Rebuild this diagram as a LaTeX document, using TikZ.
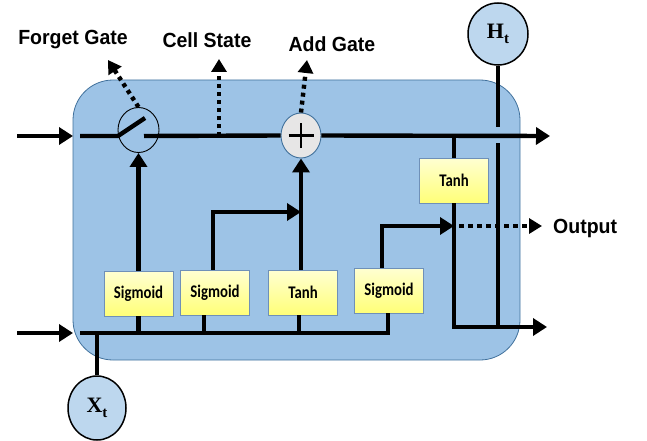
\documentclass[tikz,border=0pt]{standalone}
\usepackage{fontspec}
\setmainfont{Liberation Serif}
\newfontfamily\arialb{Liberation Sans}
\newfontfamily\calib{Carlito}
\usetikzlibrary{arrows.meta,shapes.geometric}
\definecolor{cellblue}{HTML}{9DC3E6}
\definecolor{cellborder}{HTML}{41719C}
\definecolor{circblue}{HTML}{BDD7EE}
\definecolor{plusgray}{HTML}{E7E6E6}
\definecolor{ytop}{HTML}{FFFFD2}
\definecolor{ybot}{HTML}{FFFF78}
\definecolor{boxborder}{HTML}{6F90B8}
\newcommand\talltext[1]{\scalebox{1}[1.2]{#1}}
\tikzset{
  cellbox/.style={draw=cellborder, line width=0.8pt, fill=cellblue, rounded corners=40pt, minimum width=447pt, minimum height=280pt, inner sep=0pt},
  act/.style={draw=boxborder, line width=0.8pt, top color=ytop, bottom color=ybot, minimum width=69pt, minimum height=45pt, inner sep=0pt, font=\calib\bfseries\fontsize{14.8}{16}\selectfont},
  io/.style={ellipse, draw=black, line width=1.5pt, fill=circblue, minimum width=60pt, minimum height=62pt, inner sep=0pt, font=\bfseries\fontsize{22}{24}\selectfont},
  gatec/.style={ellipse, draw=black, line width=0.9pt, minimum width=41pt, minimum height=45pt, inner sep=0pt},
  plusc/.style={ellipse, draw=cellborder, line width=0.9pt, fill=plusgray, minimum width=40pt, minimum height=45pt, inner sep=0pt},
  lbl/.style={font=\arialb\bfseries\fontsize{19.5}{22}\selectfont, inner sep=0pt},
  ln/.style={line width=4.4pt},
  arr/.style={line width=4.4pt, -{Triangle[length=14pt,width=17pt]}},
  dotarr/.style={line width=4.4pt, dash pattern=on 4pt off 4pt, -{Triangle[length=13pt,width=15pt]}},
}
\begin{document}
\begin{tikzpicture}[x=1pt,y=-1pt]
\useasboundingbox (0,0) rectangle (647,441);
% cell body
\node[cellbox] (cell) at (296.5,220) {};
% gates
\node[gatec] (fg) at (138.5,130) {};
\node[plusc] (add) at (301,135.5) {};
\draw[line width=2.5pt] ([xshift=-12.5pt]add.center) -- ([xshift=12.5pt]add.center)
      ([yshift=-12.5pt]add.center) -- ([yshift=12.5pt]add.center);
% activation boxes
\node[act] (s1) at (138.5,293.5) {\talltext{Sigmoid}};
\node[act] (s2) at (215,292.5) {\talltext{Sigmoid}};
\node[act] (t1) at (303,292.5) {\talltext{Tanh}};
\node[act] (s3) at (389,290.5) {\talltext{Sigmoid}};
\node[act] (t2) at (454,180.5) {\talltext{Tanh}};
% inputs / outputs
\node[io] (ht) at (498,34) {H\raisebox{-5pt}{\fontsize{15}{15}\selectfont t}};
\node[io, minimum width=58pt, minimum height=64pt] (xt) at (97,408) {X\raisebox{-5pt}{\fontsize{15}{15}\selectfont t}};
% labels
\node[lbl] (lfg) at (73,40) {\scalebox{1}[1.05]{Forget Gate}};
\node[lbl] (lcs) at (207,40) {\scalebox{1}[1.05]{Cell State}};
\node[lbl] (lag) at (332,44) {\scalebox{1}[1.05]{Add Gate}};
\node[lbl, anchor=west] (lout) at (553,228) {\scalebox{1}[1.05]{Output}};
% coordinates
\coordinate (inA) at (17,136);
\coordinate (inAt) at (73,136);
\coordinate (inB) at (17,333);
\coordinate (inBt) at (73,333);
\coordinate (tl) at (80,136);
\coordinate (sw1) at (118,136);
\coordinate (sw2) at (145,118);
\coordinate (sw3) at (144,136);
\coordinate (topout) at (550,136);
\coordinate (botout) at (547,327);
\coordinate (bl) at (80,333);
\coordinate (br) at (388,333);
\coordinate (cs) at (219,136);
\coordinate (cstip) at (219,59);
\coordinate (fgtip) at (108,60);
\coordinate (agtip) at (307,60);
\coordinate (s2turn) at (213,212);
\coordinate (oj) at (454,226);
\coordinate (odot) at (459,226);
\coordinate (otip) at (542,226);
\coordinate (hb1) at (498,127);
\coordinate (hb2) at (498,143);
% input arrows
\draw[arr] (inA) -- (inAt);
\draw[arr] (inB) -- (inBt);
% cell state line
\draw[ln] (tl) -- (sw1) -- (sw2);
\draw[ln] (sw3) -- (add.west);
\draw[arr] (add.east) -- (topout);
% dotted arrows
\draw[dotarr] (fg.north) -- (fgtip);
\draw[dotarr] (cs) -- (cstip);
\draw[dotarr] (add.north) -- (agtip);
% bottom input line
\draw[ln] (bl) -- (br) -- (br |- s3.south);
\draw[ln] (xt.north) -- (xt.north |- bl);
\draw[ln] (s1.south) -- (s1.south |- bl);
\draw[ln] ([xshift=-11pt]s2.south) -- ([xshift=-11pt]s2.south |- bl);
\draw[ln] ([xshift=-4pt]t1.south) -- ([xshift=-4pt]t1.south |- bl);
% gate inputs
\draw[arr] (s1.north) -- (s1.north |- fg.south);
\draw[arr] ([xshift=-2pt]s2.north) -- (s2turn) -- (s2turn -| add.south);
\draw[arr] (add.south |- t1.north) -- (add.south);
% output part
\draw[ln] (t2.north |- topout) -- (t2.north);
\draw[arr] (t2.south) -- (t2.south |- botout) -- (botout);
\draw[ln] (ht.south) -- (hb1);
\draw[ln] (hb2) -- (hb2 |- botout);
\draw[arr] ([xshift=-7pt]s3.north) |- (oj);
\draw[dotarr, dash pattern=on 5pt off 4pt] (odot) -- (otip);
\end{tikzpicture}
\end{document}
